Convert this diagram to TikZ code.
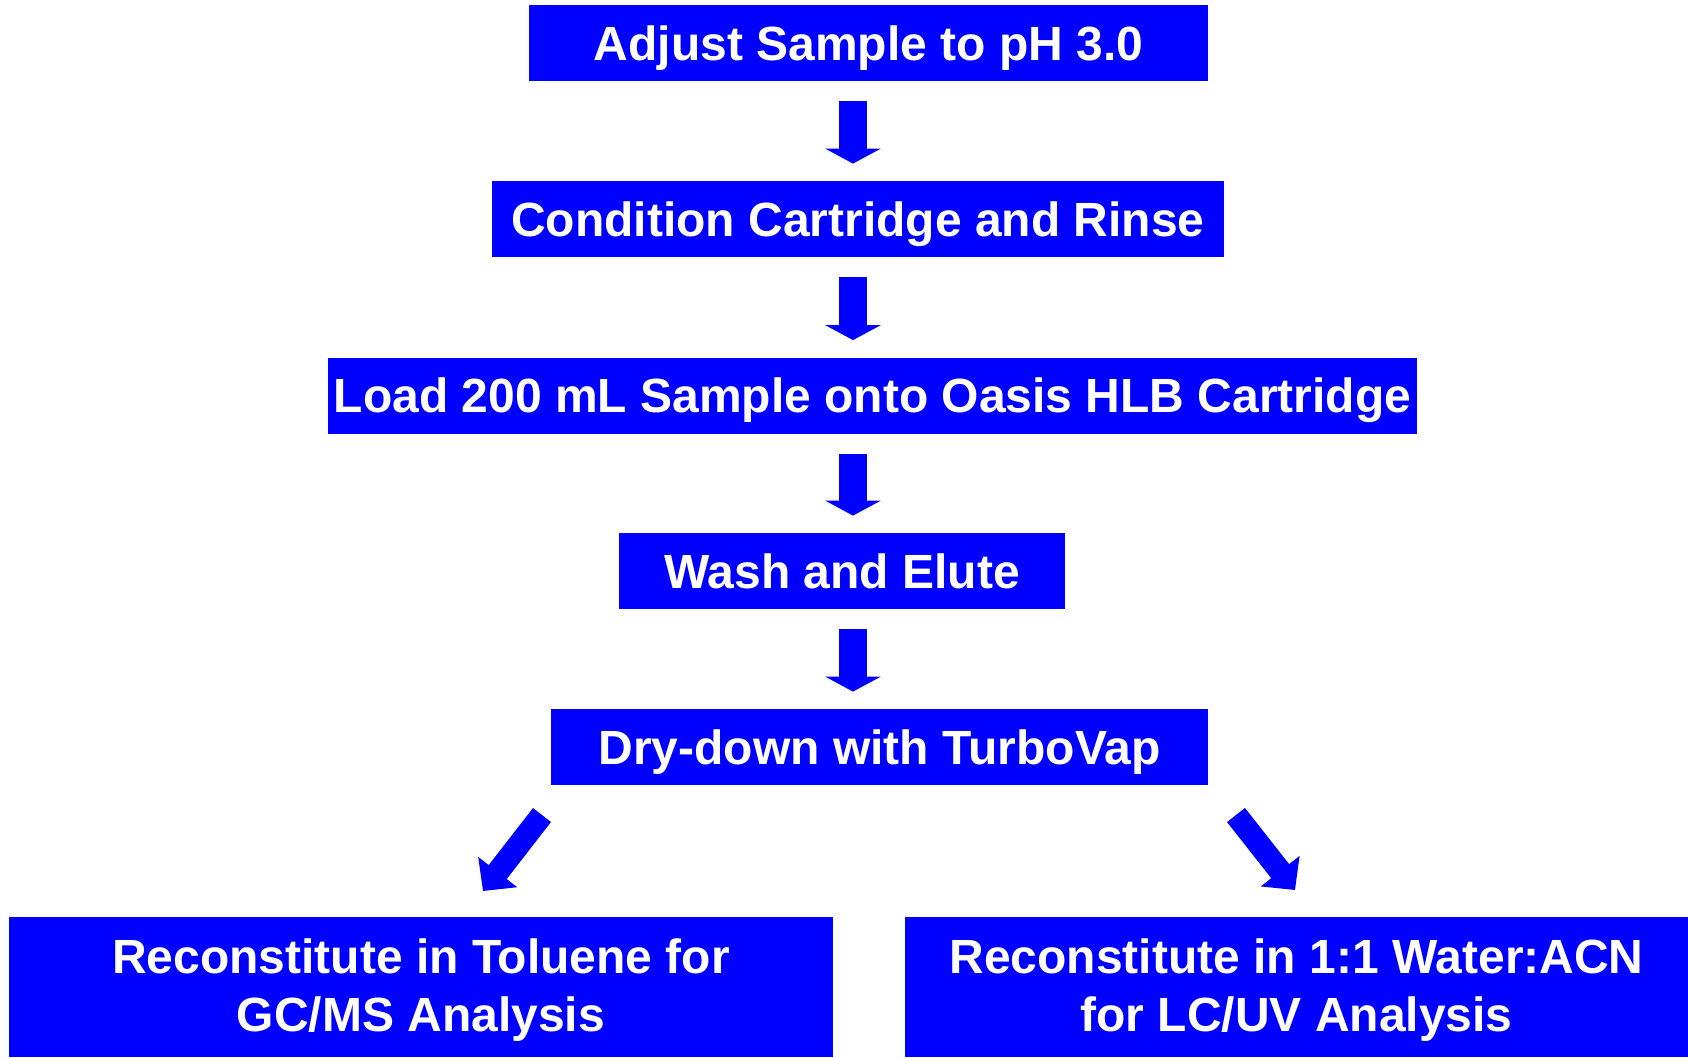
\documentclass[tikz,border=0pt]{standalone}
\usepackage{fontspec}
\setmainfont{Liberation Sans}
\usetikzlibrary{arrows.meta}
\definecolor{boxblue}{RGB}{0,0,255}
\tikzset{
  stepbox/.style={fill=boxblue, draw=none, text=white, inner sep=0pt,
    minimum height=38pt, align=center, text depth=0pt,
    font=\fontsize{24pt}{29pt}\selectfont\bfseries},
  endbox/.style={stepbox, minimum height=70pt, text depth=2pt},
  varrow/.style={draw=boxblue, line width=14pt,
    -{Triangle[width=27.5pt,length=7.5pt]}, shorten <=10pt, shorten >=8.5pt},
  darrow/.style={draw=boxblue, line width=11.4pt,
    -{Triangle[width=24pt,length=12pt]}}
}
\begin{document}
\begin{tikzpicture}[x=0.5pt,y=-0.5pt]
\useasboundingbox (0,0) rectangle (1688,1057);
\node[stepbox, minimum width=339.5pt] (b1) at (868.5,43) {Adjust Sample to pH 3.0};
\node[stepbox, minimum width=366pt] (b2) at (858,219) {Condition Cartridge and Rinse};
\node[stepbox, minimum width=544.5pt] (b3) at (872.5,395.5) {Load 200 mL Sample onto Oasis HLB Cartridge};
\node[stepbox, minimum width=223pt] (b4) at (842,571) {Wash and Elute};
\node[stepbox, minimum width=328.5pt] (b5) at (879.5,747) {Dry-down with TurboVap};
\node[endbox, minimum width=412pt] (b6) at (421,987) {Reconstitute in Toluene for\\GC/MS Analysis};
\node[endbox, minimum width=391.5pt] (b7) at (1296.5,987) {Reconstitute in 1:1 Water:ACN\\for LC/UV Analysis};
\coordinate (ax) at (853,0);
\draw[varrow] (b1.south -| ax) -- (b2.north -| ax);
\draw[varrow] (b2.south -| ax) -- (b3.north -| ax);
\draw[varrow] (b3.south -| ax) -- (b4.north -| ax);
\draw[varrow] (b4.south -| ax) -- (b5.north -| ax);
\coordinate (lt) at (542,815);
\coordinate (lh) at (483,891);
\coordinate (rt) at (1236,815);
\coordinate (rh) at (1295,890);
\draw[darrow] (lt) -- (lh);
\draw[darrow] (rt) -- (rh);
\end{tikzpicture}
\end{document}
